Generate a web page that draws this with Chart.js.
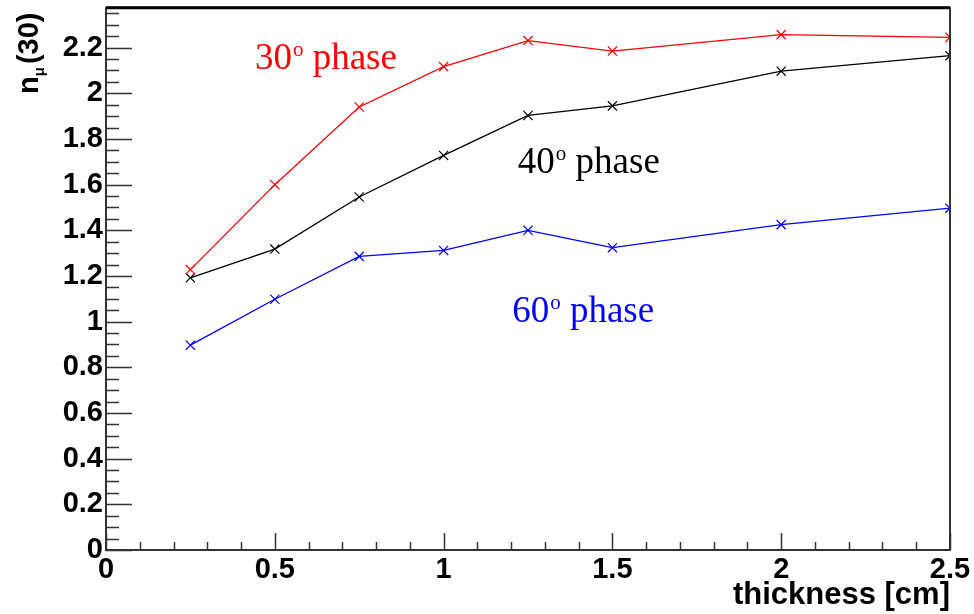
<!DOCTYPE html>
<html>
<head>
<meta charset="utf-8">
<script src="https://cdn.jsdelivr.net/npm/chart.js@4/dist/chart.umd.min.js"></script>
<style>
  html, body { margin: 0; padding: 0; background: #fff; }
  #wrap { width: 974px; height: 614px; }
</style>
</head>
<body>
<div id="wrap"><canvas id="chart" width="974" height="614"></canvas></div>
<script>
// thickness in cm
const thickness = [0.25, 0.5, 0.75, 1.0, 1.25, 1.5, 2.0, 2.5];

// n_mu(30) per phase
const phase30 = [1.228, 1.600, 1.940, 2.117, 2.231, 2.185, 2.257, 2.245];
const phase40 = [1.192, 1.318, 1.546, 1.728, 1.903, 1.945, 2.097, 2.165];
const phase60 = [0.897, 1.098, 1.286, 1.312, 1.400, 1.324, 1.425, 1.497];

// labels placed inside the plot (data coordinates of left end / baseline)
const labels = [
  { num: '30', text: ' phase', x: 0.441, y: 2.108, color: '#ff0000' },
  { num: '40', text: ' phase', x: 1.220, y: 1.653, color: '#000000' },
  { num: '60', text: ' phase', x: 1.203, y: 0.997, color: '#0000ff' }
];

const toPoints = ys => ys.map((y, i) => ({ x: thickness[i], y }));

const series = (label, ys, color) => ({
  label,
  data: toPoints(ys),
  borderColor: color,
  backgroundColor: color,
  borderWidth: 1.3,
  pointStyle: 'crossRot',
  pointRadius: 6.5,
  pointBorderWidth: 1.2,
  tension: 0
});

const tickFont = { family: 'Liberation Sans', weight: 'bold', size: 29 };

// ROOT-style frame, inward ticks, y title and text labels
const rootFrame = {
  id: 'rootFrame',
  afterDraw(chart) {
    const { ctx, chartArea: a, scales: { x, y } } = chart;
    ctx.save();
    ctx.strokeStyle = '#333';
    ctx.lineWidth = 2;
    ctx.strokeRect(a.left, a.top, a.right - a.left, a.bottom - a.top);
    ctx.strokeStyle = '#000';
    ctx.lineWidth = 3;
    ctx.beginPath();
    ctx.moveTo(a.left, a.top);
    ctx.lineTo(a.right, a.top);
    ctx.stroke();

    ctx.strokeStyle = '#333';
    ctx.lineWidth = 1.5;
    ctx.beginPath();
    for (let i = 0; i <= 47; i++) {
      const v = i * 0.05;
      if (v > y.max) break;
      const py = Math.round(y.getPixelForValue(v)) + 0.5;
      const len = i % 4 === 0 ? 26 : 13;
      ctx.moveTo(a.left, py);
      ctx.lineTo(a.left + len, py);
    }
    for (let i = 0; i <= 25; i++) {
      const v = i * 0.1;
      const px = Math.round(x.getPixelForValue(v)) + 0.5;
      const len = i % 5 === 0 ? 17 : 8;
      ctx.moveTo(px, a.bottom);
      ctx.lineTo(px, a.bottom - len);
    }
    ctx.stroke();

    // y axis title n_mu(30)
    ctx.fillStyle = '#000';
    ctx.translate(38, 94);
    ctx.rotate(-Math.PI / 2);
    ctx.textBaseline = 'alphabetic';
    ctx.textAlign = 'left';
    ctx.font = 'bold 29px "Liberation Sans"';
    ctx.fillText('n', 0, 0);
    let off = ctx.measureText('n').width;
    ctx.font = 'bold 15px "Liberation Sans"';
    ctx.fillText('\u03bc', off, 6);
    off += ctx.measureText('\u03bc').width + 3;
    ctx.font = 'bold 29px "Liberation Sans"';
    ctx.fillText('(30)', off, 0);
    ctx.setTransform(1, 0, 0, 1, 0, 0);

    // phase labels
    labels.forEach(l => {
      const px = x.getPixelForValue(l.x);
      const py = y.getPixelForValue(l.y);
      ctx.fillStyle = l.color;
      ctx.font = '37px "Liberation Serif"';
      ctx.fillText(l.num, px, py);
      let w = ctx.measureText(l.num).width;
      ctx.font = '21px "Liberation Serif"';
      ctx.fillText('o', px + w + 1, py - 13);
      w += ctx.measureText('o').width + 1;
      ctx.font = '37px "Liberation Serif"';
      ctx.fillText(l.text, px + w, py);
    });
    ctx.restore();
  }
};

new Chart(document.getElementById('chart'), {
  type: 'line',
  data: {
    datasets: [
      series('30° phase', phase30, '#ff0000'),
      series('40° phase', phase40, '#000000'),
      series('60° phase', phase60, '#0000ff')
    ]
  },
  options: {
    responsive: false,
    animation: false,
    layout: { padding: { top: 7, right: 24, left: 0, bottom: 0 } },
    plugins: { legend: { display: false }, tooltip: { enabled: false } },
    scales: {
      x: {
        type: 'linear',
        min: 0,
        max: 2.5,
        grid: { display: false, drawTicks: false },
        border: { display: false },
        ticks: {
          stepSize: 0.5,
          padding: 3,
          color: '#000',
          font: tickFont,
          maxRotation: 0,
          callback: v => parseFloat(v.toFixed(2)).toString()
        },
        title: {
          display: true,
          text: 'thickness [cm]',
          align: 'end',
          color: '#000',
          font: { family: 'Liberation Sans', weight: 'bold', size: 31 },
          padding: { top: 0, bottom: 0 }
        },
        afterFit: s => { s.height = 64; s.paddingLeft = 0; s.paddingRight = 0; }
      },
      y: {
        min: 0,
        max: 2.375,
        grid: { display: false, drawTicks: false },
        border: { display: false },
        ticks: {
          stepSize: 0.2,
          includeBounds: false,
          padding: 3,
          color: '#000',
          font: tickFont,
          callback: v => parseFloat(v.toFixed(2)).toString()
        },
        afterFit: s => { s.width = 106; s.paddingTop = 0; s.paddingBottom = 0; }
      }
    }
  },
  plugins: [rootFrame]
});
</script>
</body>
</html>
